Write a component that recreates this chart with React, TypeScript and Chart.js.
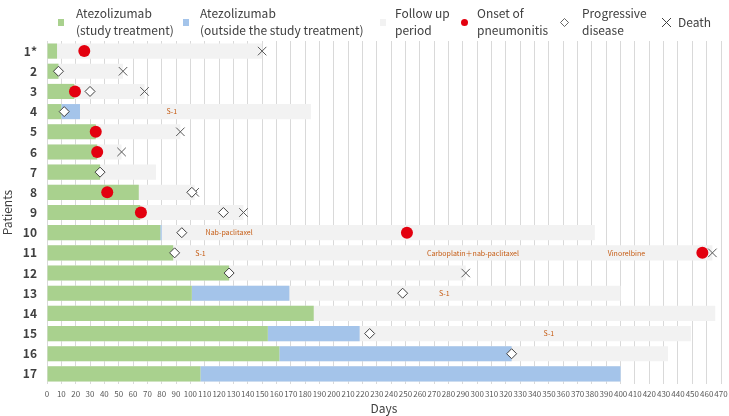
import React, { useEffect, useRef } from 'react';
import { Chart, registerables } from 'chart.js';

Chart.register(...registerables);

// ---- data ----
const patients = ['1*', '2', '3', '4', '5', '6', '7', '8', '9', '10', '11', '12', '13', '14', '15', '16', '17'];
const studyEnd = [7, 8, 19, 10, 34, 35, 37, 64, 65, 79, 88, 127, 101, 186, 154, 162, 107];
const outsideEnd: (number | null)[] = [null, null, null, 23, null, null, null, null, null, 80, null, null, 169, null, 218, 324, 400];
const followEnd = [150, 53, 68, 184, 93, 52, 76, 103, 137, 382, 464, 292, 400, 466, 449, 433, 400];

const pneumonitisPatients = ['1*', '3', '5', '6', '8', '9', '10', '11'];
const pneumonitisDays = [26, 19.5, 34, 35, 42, 65.5, 251, 457];

const pdPatients = ['2', '3', '4', '7', '8', '9', '10', '11', '12', '13', '15', '16'];
const pdDays = [8, 30, 12, 37, 101, 123, 94, 89, 127, 248, 225, 324];

const deathPatients = ['1*', '2', '3', '5', '6', '8', '9', '11', '12'];
const deathDays = [150, 53, 68, 93, 52, 103, 137, 464, 292];

const notePatients = ['4', '10', '11', '11', '11', '13', '15'];
const noteDays = [87, 127, 107, 297, 404, 277, 350];
const noteTexts = ['S-1', 'Nab-paclitaxel', 'S-1', 'Carboplatin＋nab-paclitaxel', 'Vinorelbine', 'S-1', 'S-1'];

const xMin = 0;
const xMax = 470;
const xStep = 10;

const FONT = "'Noto Sans CJK JP', 'Noto Sans', sans-serif";
const TEXT = '#404040';

const notesPlugin = {
  id: 'notes',
  afterDatasetsDraw(chart: any) {
    const { ctx, scales } = chart;
    ctx.save();
    ctx.font = `7px ${FONT}`;
    ctx.fillStyle = '#c55a11';
    ctx.textAlign = 'center';
    ctx.textBaseline = 'middle';
    noteTexts.forEach((t, i) => {
      const x = scales.x.getPixelForValue(noteDays[i]);
      const y = scales.y.getPixelForValue(patients.indexOf(notePatients[i]));
      ctx.fillText(t, x, y);
    });
    ctx.restore();
  },
};

export default function App() {
  const ref = useRef<HTMLCanvasElement>(null);

  useEffect(() => {
    if (!ref.current) return;
    const chart = new Chart(ref.current, {
      type: 'bar',
      data: {
        labels: patients,
        datasets: [
          {
            type: 'scatter',
            label: 'Onset of pneumonitis',
            data: pneumonitisPatients.map((p, i) => ({ x: pneumonitisDays[i], y: p })),
            pointStyle: 'circle',
            pointRadius: 6,
            backgroundColor: '#e3000f',
            borderColor: '#e3000f',
            borderWidth: 0,
            order: 0,
          } as any,
          {
            type: 'scatter',
            label: 'Progressive disease',
            data: pdPatients.map((p, i) => ({ x: pdDays[i], y: p })),
            pointStyle: 'rectRot',
            pointRadius: 5,
            backgroundColor: '#ffffff',
            borderColor: '#404040',
            borderWidth: 1,
            order: 0,
          } as any,
          {
            type: 'scatter',
            label: 'Death',
            data: deathPatients.map((p, i) => ({ x: deathDays[i], y: p })),
            pointStyle: 'crossRot',
            pointRadius: 6,
            backgroundColor: '#595959',
            borderColor: '#595959',
            borderWidth: 1,
            order: 0,
          } as any,
          {
            label: 'Atezolizumab (study treatment)',
            data: studyEnd.map((v) => [0, v]) as any,
            backgroundColor: '#a9d18e',
            grouped: false,
            barPercentage: 0.75,
            categoryPercentage: 1,
            order: 1,
          } as any,
          {
            label: 'Atezolizumab (outside the study treatment)',
            data: outsideEnd.map((v, i) => (v == null ? null : [studyEnd[i], v])) as any,
            backgroundColor: '#a4c4ea',
            grouped: false,
            barPercentage: 0.75,
            categoryPercentage: 1,
            order: 1,
          } as any,
          {
            label: 'Follow up period',
            data: followEnd.map((v) => [0, v]) as any,
            backgroundColor: '#f2f2f2',
            grouped: false,
            barPercentage: 0.75,
            categoryPercentage: 1,
            order: 2,
          } as any,
        ],
      },
      options: {
        indexAxis: 'y',
        animation: false,
        responsive: true,
        maintainAspectRatio: false,
        layout: { padding: { top: 41, right: 0, left: 0, bottom: 0 } },
        plugins: {
          legend: { display: false },
          tooltip: { enabled: false },
        },
        scales: {
          x: {
            type: 'linear',
            position: 'bottom',
            min: xMin,
            max: xMax,
            grid: { color: '#d9d9d9', drawTicks: false },
            border: { display: false },
            ticks: {
              stepSize: xStep,
              autoSkip: false,
              maxRotation: 0,
              padding: 5,
              color: '#595959',
              font: { size: 8, family: FONT },
            },
            title: {
              display: true,
              text: 'Days',
              color: TEXT,
              font: { size: 12, family: FONT },
              padding: { top: 2, bottom: 0 },
            },
            afterFit: (s: any) => {
              s.height = 32;
              s.paddingRight = 8;
              s.paddingLeft = 0;
            },
          },
          y: {
            type: 'category',
            offset: true,
            grid: { display: false, drawTicks: false },
            border: { display: false },
            ticks: {
              padding: 10,
              color: TEXT,
              font: { size: 12, weight: 'bold', family: FONT },
            },
            title: {
              display: true,
              text: 'Patients',
              color: TEXT,
              font: { size: 12, family: FONT },
              padding: 0,
            },
            afterFit: (s: any) => {
              s.width = 47;
            },
          },
        },
      } as any,
      plugins: [notesPlugin],
    });
    return () => chart.destroy();
  }, []);

  const lbl: React.CSSProperties = {
    position: 'absolute',
    fontFamily: FONT,
    fontSize: 12,
    lineHeight: '17px',
    color: TEXT,
    whiteSpace: 'nowrap',
  };

  return (
    <div style={{ position: 'absolute', left: 0, top: 0, width: 729, height: 416, background: '#fff' }}>
      <canvas ref={ref} />
      <div style={{ position: 'absolute', left: 58, top: 19, width: 6, height: 7, background: '#a9d18e' }} />
      <div style={{ ...lbl, left: 76, top: 4 }}>Atezolizumab<br />(study treatment)</div>
      <div style={{ position: 'absolute', left: 183, top: 19, width: 6, height: 7, background: '#a4c4ea' }} />
      <div style={{ ...lbl, left: 200, top: 4 }}>Atezolizumab<br />(outside the study treatment)</div>
      <div style={{ position: 'absolute', left: 380, top: 19, width: 6, height: 7, background: '#f2f2f2' }} />
      <div style={{ ...lbl, left: 395, top: 4 }}>Follow up<br />period</div>
      <div style={{ position: 'absolute', left: 461, top: 19, width: 7, height: 7, borderRadius: '50%', background: '#e3000f' }} />
      <div style={{ ...lbl, left: 477, top: 4 }}>Onset of<br />pneumonitis</div>
      <svg style={{ position: 'absolute', left: 560, top: 18 }} width="9" height="9">
        <path d="M4.5 0.5 L8.5 4.5 L4.5 8.5 L0.5 4.5 Z" fill="#fff" stroke="#404040" strokeWidth="0.8" />
      </svg>
      <div style={{ ...lbl, left: 582, top: 4 }}>Progressive<br />disease</div>
      <svg style={{ position: 'absolute', left: 661, top: 17 }} width="11" height="11">
        <path d="M1 1 L10 10 M10 1 L1 10" stroke="#404040" strokeWidth="1" />
      </svg>
      <div style={{ ...lbl, left: 678, top: 13 }}>Death</div>
    </div>
  );
}
